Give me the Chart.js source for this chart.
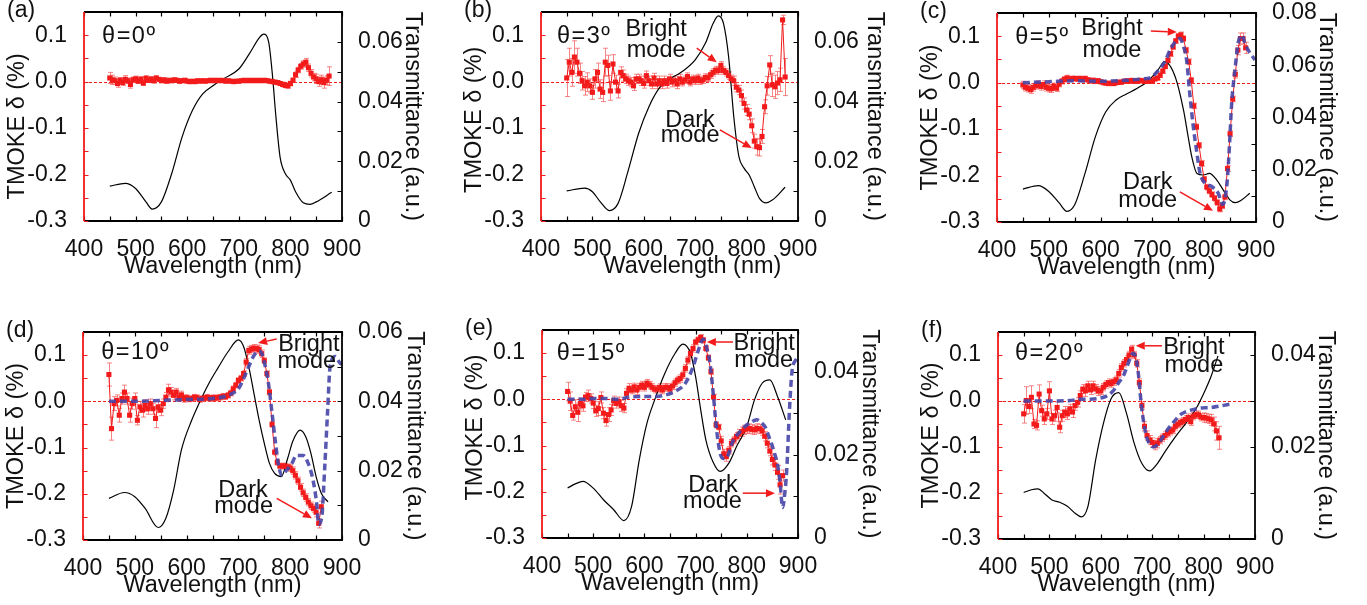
<!DOCTYPE html>
<html lang="en">
<head>
<meta charset="UTF-8">
<title>TMOKE spectra vs. incidence angle</title>
<script src="https://cdn.jsdelivr.net/npm/chart.js"></script>
<style>
  html, body { margin: 0; padding: 0; background: #fff; overflow: hidden; }
  body { width: 1367px; height: 605px; position: relative; }
  canvas { position: absolute; }
</style>
</head>
<body>
<canvas id="ca"></canvas>
<canvas id="cb"></canvas>
<canvas id="cc"></canvas>
<canvas id="cd"></canvas>
<canvas id="ce"></canvas>
<canvas id="cf"></canvas>
<script>
// wavelength grid of the TMOKE measurements (nm)
const wl = [
  450, 455, 460, 465, 470, 475, 480, 485, 490, 495,
  500, 505, 510, 515, 520, 525, 530, 535, 540, 545,
  550, 555, 560, 565, 570, 575, 580, 585, 590, 595,
  600, 605, 610, 615, 620, 625, 630, 635, 640, 645,
  650, 655, 660, 665, 670, 675, 680, 685, 690, 695,
  700, 705, 710, 715, 720, 725, 730, 735, 740, 745,
  750, 755, 760, 765, 770, 775, 780, 785, 790, 795,
  800, 805, 810, 815, 820, 825, 830, 835, 840, 845,
  850, 855, 860, 865, 870, 875, 880
];

// axis tick labels
const wlTicks = [400, 500, 600, 700, 800, 900];
const deltaTicks = [-0.3, -0.2, -0.1, 0, 0.1];
const transTicks06 = [0, 0.02, 0.04, 0.06];
const transTicks08 = [0, 0.02, 0.04, 0.06, 0.08];
const transTicks04 = [0, 0.02, 0.04];

// TMOKE delta (%) and its error, one row per 50 nm
const deltaA = [
  0.008, 0.004, 0.002, -0.004, 0.003, -0.002, 0.005, 0.002, -0.006, 0.004,
  0.006, 0.001, 0.005, -0.003, 0.007, 0.003, 0.006, 0.002, 0.008, 0.005,
  0.002, 0.004, 0.001, 0.003, 0.002, 0.004, 0.003, 0.001, 0.002, 0.003,
  0.001, 0.000, 0.001, 0.000, 0.002, 0.001, 0.002, 0.001, 0.002, 0.003,
  0.002, 0.003, 0.002, 0.003, 0.002, 0.001, 0.002, 0.001, 0.000, 0.001,
  0.001, 0.002, 0.003, 0.002, 0.003, 0.002, 0.003, 0.002, 0.003, 0.002,
  0.003, 0.002, 0.001, 0.000, -0.001, -0.002, -0.004, -0.006, -0.008, -0.009,
  -0.004, 0.003, 0.015, 0.025, 0.033, 0.038, 0.042, 0.030, 0.018, 0.010,
  0.006, 0.000, 0.004, -0.002, 0.003, 0.012
];
const errA = [
  0.012, 0.010, 0.008, 0.008, 0.006, 0.006, 0.008, 0.006, 0.008, 0.006,
  0.006, 0.005, 0.006, 0.005, 0.006, 0.005, 0.004, 0.005, 0.004, 0.004,
  0.004, 0.004, 0.004, 0.004, 0.004, 0.004, 0.004, 0.004, 0.004, 0.004,
  0.003, 0.003, 0.003, 0.003, 0.003, 0.003, 0.003, 0.003, 0.003, 0.003,
  0.003, 0.003, 0.003, 0.003, 0.003, 0.003, 0.003, 0.003, 0.003, 0.003,
  0.003, 0.003, 0.003, 0.003, 0.003, 0.003, 0.003, 0.003, 0.003, 0.003,
  0.003, 0.003, 0.003, 0.004, 0.004, 0.004, 0.004, 0.005, 0.005, 0.005,
  0.005, 0.005, 0.006, 0.006, 0.006, 0.007, 0.008, 0.008, 0.008, 0.008,
  0.010, 0.010, 0.010, 0.012, 0.010, 0.020
];

const deltaB = [
  0.008, 0.042, 0.020, 0.053, 0.042, 0.018, 0.002, -0.009, -0.001, -0.009,
  -0.023, 0.006, 0.020, -0.016, -0.023, 0.042, 0.035, -0.020, 0.038, -0.001,
  -0.020, 0.020, 0.013, 0.006, 0.002, -0.001, -0.009, 0.006, 0.006, 0.002,
  -0.004, 0.013, 0.002, -0.005, 0.008, -0.005, 0.002, -0.005, 0.002, -0.004,
  0.006, -0.001, 0.002, -0.005, 0.006, -0.001, 0.004, 0.011, -0.001, 0.006,
  0.002, 0.008, 0.002, 0.004, 0.009, 0.008, 0.015, 0.020, 0.025, 0.024,
  0.035, 0.024, 0.020, 0.013, 0.006, 0.002, -0.012, -0.018, -0.030, -0.047,
  -0.061, -0.070, -0.095, -0.128, -0.140, -0.142, -0.118, -0.054, -0.009, 0.036,
  -0.007, -0.011, -0.003, 0.004, 0.133, 0.010
];
const errB = [
  0.040, 0.030, 0.030, 0.035, 0.030, 0.022, 0.020, 0.020, 0.020, 0.015,
  0.015, 0.020, 0.020, 0.020, 0.020, 0.030, 0.022, 0.020, 0.020, 0.015,
  0.015, 0.012, 0.012, 0.010, 0.010, 0.010, 0.010, 0.010, 0.010, 0.010,
  0.010, 0.010, 0.010, 0.010, 0.010, 0.010, 0.010, 0.010, 0.010, 0.010,
  0.010, 0.010, 0.010, 0.010, 0.010, 0.008, 0.008, 0.008, 0.008, 0.008,
  0.008, 0.008, 0.008, 0.008, 0.008, 0.008, 0.008, 0.008, 0.008, 0.008,
  0.008, 0.008, 0.008, 0.008, 0.008, 0.010, 0.010, 0.010, 0.012, 0.012,
  0.012, 0.012, 0.015, 0.015, 0.018, 0.018, 0.015, 0.015, 0.020, 0.020,
  0.025, 0.025, 0.025, 0.025, 0.010, 0.040
];

const deltaC = [
  -0.005, -0.010, -0.012, -0.015, -0.010, -0.006, -0.004, -0.008, -0.004, -0.010,
  -0.012, -0.013, -0.008, -0.012, -0.003, 0.003, 0.007, 0.010, 0.008, 0.009,
  0.009, 0.008, 0.009, 0.007, 0.009, 0.006, 0.004, 0.005, 0.003, 0.004,
  0.002, 0.000, -0.001, -0.002, -0.001, -0.002, 0.000, 0.001, 0.001, 0.003,
  0.004, 0.003, 0.005, 0.004, 0.003, 0.005, 0.004, 0.003, 0.004, 0.003,
  0.004, 0.008, 0.010, 0.016, 0.025, 0.035, 0.048, 0.062, 0.077, 0.090,
  0.100, 0.103, 0.095, 0.070, 0.045, 0.005, -0.050, -0.095, -0.135, -0.174,
  -0.208, -0.225, -0.233, -0.241, -0.249, -0.258, -0.272, -0.265, -0.246, -0.185,
  -0.110, -0.035, 0.018, 0.070, 0.095, 0.095, 0.075
];
const errC = [
  0.008, 0.008, 0.008, 0.008, 0.008, 0.008, 0.008, 0.008, 0.008, 0.008,
  0.008, 0.008, 0.007, 0.007, 0.006, 0.006, 0.006, 0.006, 0.005, 0.005,
  0.005, 0.005, 0.005, 0.005, 0.005, 0.005, 0.005, 0.005, 0.005, 0.005,
  0.004, 0.004, 0.004, 0.004, 0.004, 0.004, 0.004, 0.004, 0.004, 0.004,
  0.004, 0.004, 0.004, 0.004, 0.004, 0.004, 0.004, 0.004, 0.004, 0.004,
  0.004, 0.004, 0.004, 0.005, 0.005, 0.005, 0.005, 0.005, 0.005, 0.005,
  0.006, 0.006, 0.006, 0.006, 0.006, 0.006, 0.006, 0.006, 0.006, 0.006,
  0.006, 0.006, 0.006, 0.006, 0.006, 0.006, 0.006, 0.006, 0.006, 0.006,
  0.006, 0.006, 0.008, 0.010, 0.012, 0.012, 0.012
];

const deltaD = [
  0.058, -0.059, -0.005, 0.002, -0.030, 0.006, 0.020, 0.006, -0.030, -0.005,
  0.006, -0.041, -0.012, -0.019, -0.009, -0.016, -0.005, -0.016, -0.037, -0.012,
  -0.019, -0.005, 0.009, 0.025, 0.020, 0.013, 0.020, 0.009, 0.014, 0.006,
  0.008, 0.005, 0.006, 0.009, 0.008, 0.004, 0.006, 0.007, 0.009, 0.006,
  0.008, 0.007, 0.008, 0.009, 0.011, 0.010, 0.013, 0.018, 0.027, 0.035,
  0.045, 0.050, 0.060, 0.085, 0.110, 0.113, 0.115, 0.114, 0.112, 0.103,
  0.088, 0.060, 0.020, -0.050, -0.110, -0.132, -0.140, -0.140, -0.140, -0.142,
  -0.144, -0.150, -0.160, -0.172, -0.186, -0.198, -0.208, -0.218, -0.226, -0.232,
  -0.240, -0.264, -0.228
];
const errD = [
  0.025, 0.025, 0.015, 0.012, 0.015, 0.012, 0.015, 0.012, 0.015, 0.012,
  0.012, 0.010, 0.012, 0.015, 0.012, 0.012, 0.010, 0.012, 0.020, 0.012,
  0.012, 0.010, 0.010, 0.012, 0.010, 0.010, 0.008, 0.008, 0.008, 0.008,
  0.006, 0.006, 0.006, 0.006, 0.006, 0.006, 0.006, 0.006, 0.006, 0.006,
  0.006, 0.006, 0.006, 0.006, 0.006, 0.006, 0.006, 0.006, 0.006, 0.006,
  0.006, 0.006, 0.006, 0.008, 0.008, 0.008, 0.008, 0.008, 0.008, 0.008,
  0.006, 0.006, 0.006, 0.006, 0.006, 0.006, 0.006, 0.006, 0.006, 0.006,
  0.008, 0.008, 0.008, 0.008, 0.008, 0.008, 0.008, 0.008, 0.008, 0.008,
  0.010, 0.010, 0.012
];

const deltaE = [
  0.017, -0.004, -0.035, -0.016, -0.028, -0.009, -0.014, 0.005, 0.008, 0.002,
  -0.008, -0.025, -0.020, 0.004, -0.030, -0.046, -0.033, -0.023, -0.003, -0.009,
  -0.005, -0.014, -0.019, 0.013, 0.024, 0.020, 0.027, 0.020, 0.026, 0.031,
  0.026, 0.035, 0.031, 0.026, 0.022, 0.022, 0.026, 0.020, 0.026, 0.026,
  0.022, 0.029, 0.036, 0.042, 0.045, 0.053, 0.067, 0.085, 0.099, 0.110,
  0.124, 0.129, 0.134, 0.128, 0.110, 0.090, 0.060, 0.005, -0.055, -0.060,
  -0.090, -0.118, -0.124, -0.110, -0.095, -0.088, -0.080, -0.075, -0.070, -0.066,
  -0.064, -0.063, -0.065, -0.066, -0.063, -0.064, -0.068, -0.080, -0.095, -0.112,
  -0.130, -0.142, -0.158, -0.185, -0.165
];
const errE = [
  0.020, 0.020, 0.010, 0.015, 0.020, 0.012, 0.012, 0.010, 0.012, 0.010,
  0.012, 0.012, 0.015, 0.012, 0.012, 0.012, 0.015, 0.012, 0.010, 0.010,
  0.010, 0.012, 0.010, 0.010, 0.010, 0.008, 0.008, 0.010, 0.008, 0.008,
  0.008, 0.008, 0.008, 0.008, 0.008, 0.008, 0.008, 0.008, 0.008, 0.008,
  0.008, 0.008, 0.008, 0.008, 0.008, 0.008, 0.008, 0.008, 0.008, 0.008,
  0.006, 0.006, 0.006, 0.006, 0.006, 0.006, 0.006, 0.006, 0.006, 0.006,
  0.010, 0.010, 0.010, 0.008, 0.008, 0.008, 0.008, 0.010, 0.010, 0.010,
  0.010, 0.010, 0.010, 0.010, 0.010, 0.010, 0.010, 0.010, 0.010, 0.010,
  0.012, 0.012, 0.015, 0.020, 0.012
];

const deltaF = [
  -0.028, 0.001, -0.012, 0.008, -0.050, -0.053, 0.015, -0.021, -0.039, -0.028,
  0.022, -0.039, -0.032, -0.014, -0.057, -0.032, -0.024, -0.028, -0.017, -0.024,
  -0.010, -0.003, 0.012, 0.026, 0.022, 0.033, 0.024, 0.033, 0.026, 0.022,
  0.022, 0.030, 0.036, 0.040, 0.038, 0.042, 0.046, 0.060, 0.073, 0.082,
  0.090, 0.100, 0.113, 0.100, 0.082, 0.040, -0.010, -0.055, -0.075, -0.085,
  -0.090, -0.096, -0.092, -0.085, -0.080, -0.075, -0.070, -0.066, -0.063, -0.055,
  -0.050, -0.047, -0.044, -0.040, -0.036, -0.045, -0.033, -0.030, -0.030, -0.035,
  -0.036, -0.037, -0.039, -0.041, -0.050, -0.065, -0.080
];
const errF = [
  0.020, 0.030, 0.015, 0.025, 0.010, 0.010, 0.020, 0.012, 0.012, 0.012,
  0.020, 0.012, 0.012, 0.012, 0.012, 0.012, 0.012, 0.012, 0.010, 0.012,
  0.010, 0.010, 0.010, 0.010, 0.012, 0.010, 0.010, 0.010, 0.010, 0.010,
  0.008, 0.008, 0.008, 0.008, 0.008, 0.008, 0.008, 0.008, 0.008, 0.008,
  0.008, 0.008, 0.008, 0.008, 0.008, 0.008, 0.008, 0.010, 0.010, 0.010,
  0.010, 0.010, 0.010, 0.008, 0.008, 0.008, 0.008, 0.008, 0.008, 0.008,
  0.008, 0.008, 0.008, 0.008, 0.008, 0.008, 0.008, 0.008, 0.008, 0.008,
  0.010, 0.010, 0.010, 0.012, 0.015, 0.020, 0.025
];

// transmittance spectra (right axis)
const transWlA = [450, 480, 500, 520, 532, 550, 570, 590, 610, 630, 650, 670, 700, 720, 740, 748, 758, 765, 772, 780, 790, 800, 810, 825, 838, 850, 880];
const transA = [0.0117, 0.0126, 0.0109, 0.0064, 0.0040, 0.0064, 0.0159, 0.0281, 0.0370, 0.0426, 0.0453, 0.0476, 0.0509, 0.0559, 0.0614, 0.0626, 0.0598, 0.0492, 0.0348, 0.0214, 0.0159, 0.0137, 0.0098, 0.0061, 0.0056, 0.0064, 0.0096];
const transWlB = [450, 485, 500, 515, 533, 550, 570, 590, 610, 630, 650, 670, 700, 720, 735, 745, 755, 765, 775, 785, 795, 805, 815, 825, 838, 850, 875];
const transB = [0.0101, 0.0110, 0.0098, 0.0065, 0.0035, 0.0059, 0.0171, 0.0294, 0.0383, 0.0445, 0.0476, 0.0495, 0.0540, 0.0596, 0.0662, 0.0687, 0.0662, 0.0550, 0.0350, 0.0216, 0.0177, 0.0154, 0.0115, 0.0076, 0.0061, 0.0070, 0.0113];
const transWlC = [450, 480, 500, 520, 535, 550, 570, 590, 610, 630, 650, 670, 690, 710, 724, 744, 760, 769, 776, 786, 798, 810, 824, 837, 850, 860, 872, 888];
const transC = [0.0126, 0.0139, 0.0117, 0.0073, 0.0041, 0.0066, 0.0187, 0.0327, 0.0422, 0.0467, 0.0490, 0.0511, 0.0537, 0.0580, 0.0614, 0.0556, 0.0429, 0.0327, 0.0250, 0.0186, 0.0180, 0.0186, 0.0161, 0.0122, 0.0084, 0.0074, 0.0084, 0.0110];
const transWlD = [450, 480, 500, 520, 545, 560, 575, 590, 610, 630, 645, 660, 680, 700, 710, 720, 730, 740, 750, 760, 770, 783, 795, 805, 819, 830, 840, 850, 860, 873];
const transD = [0.0120, 0.0137, 0.0125, 0.0091, 0.0036, 0.0063, 0.0144, 0.0260, 0.0346, 0.0413, 0.0457, 0.0495, 0.0543, 0.0577, 0.0558, 0.0500, 0.0423, 0.0346, 0.0279, 0.0221, 0.0192, 0.0183, 0.0235, 0.0285, 0.0317, 0.0298, 0.0250, 0.0183, 0.0135, 0.0110];
const transWlE = [450, 465, 480, 500, 520, 540, 560, 575, 590, 605, 620, 640, 660, 675, 690, 700, 710, 720, 735, 748, 765, 780, 800, 815, 830, 845, 860, 876];
const transE = [0.0120, 0.0130, 0.0136, 0.0120, 0.0092, 0.0068, 0.0042, 0.0076, 0.0188, 0.0276, 0.0332, 0.0396, 0.0444, 0.0466, 0.0444, 0.0388, 0.0308, 0.0236, 0.0180, 0.0160, 0.0180, 0.0220, 0.0268, 0.0332, 0.0372, 0.0380, 0.0340, 0.0284];
const transWlF = [450, 465, 478, 490, 505, 520, 535, 550, 562, 575, 590, 605, 620, 635, 650, 665, 680, 695, 710, 725, 745, 765, 785, 800, 815, 828];
const transF = [0.0101, 0.0107, 0.0109, 0.0099, 0.0085, 0.0080, 0.0071, 0.0056, 0.0048, 0.0071, 0.0172, 0.0251, 0.0305, 0.0318, 0.0273, 0.0208, 0.0164, 0.0148, 0.0164, 0.0190, 0.0222, 0.0251, 0.0283, 0.0316, 0.0355, 0.0398];

// calculated TMOKE (dashed)
const fitWlC = [450, 500, 550, 600, 650, 680, 695, 715, 724, 734, 744, 753, 760, 766, 772, 779, 786, 792, 802, 815, 827, 836, 844, 849, 853, 860, 866, 873, 879, 889, 898];
const fitC = [0.000, 0.002, 0.004, 0.003, 0.005, 0.008, 0.010, 0.031, 0.045, 0.070, 0.088, 0.095, 0.078, 0.049, -0.022, -0.095, -0.152, -0.195, -0.217, -0.224, -0.238, -0.262, -0.217, -0.131, -0.045, 0.034, 0.088, 0.102, 0.083, 0.063, 0.049];
const fitWlD = [450, 500, 550, 600, 650, 680, 700, 710, 720, 730, 740, 745, 751, 758, 765, 771, 777, 784, 793, 803, 812, 825, 835, 844, 851, 855, 861, 867, 872, 877, 887, 896, 900];
const fitD = [0.000, 0.000, 0.002, 0.004, 0.006, 0.013, 0.027, 0.049, 0.075, 0.099, 0.109, 0.104, 0.080, 0.039, -0.026, -0.084, -0.135, -0.160, -0.149, -0.135, -0.117, -0.117, -0.135, -0.170, -0.220, -0.266, -0.250, -0.135, -0.026, 0.075, 0.097, 0.083, 0.080];
const fitWlE = [450, 480, 500, 520, 550, 570, 600, 620, 640, 660, 680, 695, 705, 715, 722, 728, 735, 741, 748, 754, 762, 773, 785, 796, 808, 819, 828, 836, 843, 849, 855, 860, 865, 870, 874, 878, 883, 888, 896, 900];
const fitE = [0.000, 0.000, 0.002, 0.002, 0.000, 0.005, 0.006, 0.006, 0.009, 0.017, 0.035, 0.070, 0.105, 0.130, 0.110, 0.079, 0.006, -0.066, -0.117, -0.128, -0.124, -0.090, -0.072, -0.059, -0.050, -0.044, -0.050, -0.060, -0.080, -0.098, -0.120, -0.140, -0.180, -0.234, -0.205, -0.153, -0.030, 0.057, 0.086, 0.092];
const fitWlF = [450, 500, 540, 560, 580, 598, 610, 624, 635, 644, 652, 658, 663, 668, 673, 679, 684, 689, 695, 702, 708, 715, 728, 740, 757, 775, 790, 815, 851];
const fitF = [0.000, 0.000, 0.001, 0.004, 0.004, 0.006, 0.010, 0.022, 0.040, 0.055, 0.078, 0.095, 0.104, 0.095, 0.060, -0.010, -0.050, -0.078, -0.093, -0.100, -0.097, -0.088, -0.065, -0.048, -0.028, -0.020, -0.016, -0.014, -0.007];

const FONT = "'Liberation Sans', Arial, sans-serif";
const RED = 'rgb(242, 26, 26)';
const ERR = 'rgba(246, 92, 92, 0.75)';
const FIT = 'rgba(70, 70, 168, 0.9)';

const X_TITLE = 'Wavelength (nm)';
const Y_TITLE = 'TMOKE δ (%)';
const T_TITLE = 'Transmittance (a.u.)';

// box = plot area in page pixels; notes/arrows are in axis units
const panels = [
  { id: 'ca', tag: '(a)', angle: 'θ=0º', anglePos: [435, 0.097], box: { left: 84, top: 12, w: 258, h: 209 }, rightW: 90,
    tMax: 0.07, tTicks: transTicks06, xTitle: X_TITLE, yTitle: Y_TITLE + '   ',
    delta: deltaA, err: errA, tX: transWlA, tY: transA, notes: [], arrows: [] },
  { id: 'cb', tag: '(b)', angle: 'θ=3º', anglePos: [431, 0.097], box: { left: 541, top: 12, w: 257, h: 209 }, rightW: 96,
    tMax: 0.07, tTicks: transTicks06, xTitle: '       ' + X_TITLE, yTitle: Y_TITLE + ' ',
    delta: deltaB, err: errB, tX: transWlB, tY: transB,
    notes: [['Bright', 624, 0.113], ['mode', 624, 0.068], ['Dark', 690, -0.083], ['mode', 690, -0.115]],
    arrows: [[703, 0.072, 742, 0.042], [748, -0.104, 810, -0.143]] },
  { id: 'cc', tag: '(c)', angle: 'θ=5º', anglePos: [435, 0.098], box: { left: 997, top: 13, w: 259, h: 209 }, rightW: 90,
    tMax: 0.08, tTicks: transTicks08, xTitle: X_TITLE, yTitle: Y_TITLE,
    delta: deltaC, err: errC, tX: transWlC, tY: transC, fitX: fitWlC, fitY: fitC,
    notes: [['Bright', 622, 0.116], ['mode', 622, 0.070], ['Dark', 691, -0.216], ['mode', 691, -0.253]],
    arrows: [[697, 0.111, 747, 0.109], [753, -0.235, 817, -0.276]] },
  { id: 'cd', tag: '(d)', angle: 'θ=10º', anglePos: [435, 0.105], box: { left: 83, top: 332, w: 259, h: 208 }, rightW: 92,
    tMax: 0.06, tTicks: transTicks06, xTitle: X_TITLE, yTitle: Y_TITLE,
    delta: deltaD, err: errD, tX: transWlD, tY: transD, fitX: fitWlD, fitY: fitD,
    notes: [['Bright', 836, 0.124], ['mode', 832, 0.087], ['Dark', 709, -0.194], ['mode', 710, -0.227]],
    arrows: [[774, 0.135, 738, 0.126], [774, -0.210, 842, -0.253]] },
  { id: 'ce', tag: '(e)', angle: 'θ=15º', anglePos: [429, 0.100], box: { left: 542, top: 330, w: 256, h: 208 }, rightW: 91,
    tMax: 0.05, tTicks: transTicks04, xTitle: X_TITLE, yTitle: '  ' + Y_TITLE,
    delta: deltaE, err: errE, tX: transWlE, tY: transE, fitX: fitWlE, fitY: fitE,
    notes: [['Bright', 834, 0.120], ['mode', 833, 0.083], ['Dark', 734, -0.186], ['mode', 733, -0.220]],
    arrows: [[773, 0.124, 722, 0.124], [792, -0.203, 855, -0.203]] },
  { id: 'cf', tag: '(f)', angle: 'θ=20º', anglePos: [433, 0.104], box: { left: 998, top: 332, w: 257, h: 207 }, rightW: 90,
    tMax: 0.045, tTicks: transTicks04, xTitle: X_TITLE, yTitle: Y_TITLE,
    delta: deltaF, err: errF, tX: transWlF, tY: transF, fitX: fitWlF, fitY: fitF,
    notes: [['Bright', 781, 0.117], ['mode', 781, 0.078]],
    arrows: [[719, 0.120, 668, 0.120]] }
];

const pts = (xs, ys) => ys.map((y, i) => ({ x: xs[i], y: y }));

function noPad(s) {
  s.paddingLeft = 0; s.paddingRight = 0; s.paddingTop = 0; s.paddingBottom = 0;
}

function fixedTicks(values) {
  return s => { s.ticks = values.map(v => ({ value: v })); };
}

function drawArrow(ctx, x1, y1, x2, y2) {
  const ang = Math.atan2(y2 - y1, x2 - x1);
  const L = 9, W = 4;
  const bx = x2 - L * Math.cos(ang), by = y2 - L * Math.sin(ang);
  ctx.beginPath();
  ctx.moveTo(x1, y1);
  ctx.lineTo(bx, by);
  ctx.stroke();
  ctx.beginPath();
  ctx.moveTo(x2, y2);
  ctx.lineTo(bx + W * Math.sin(ang), by - W * Math.cos(ang));
  ctx.lineTo(bx - W * Math.sin(ang), by + W * Math.cos(ang));
  ctx.closePath();
  ctx.fill();
}

// inward tick marks at the labelled values and halfway between them
function tickMarks(ctx, scale, from, dir, vertical) {
  const vals = scale.ticks.map(t => t.value);
  const marks = [];
  vals.forEach((v, i) => {
    marks.push(v);
    if (i < vals.length - 1) marks.push((v + vals[i + 1]) / 2);
  });
  const last = vals[vals.length - 1], step = vals[1] - vals[0];
  if (last + step / 2 < scale.max - 1e-9) marks.push(last + step / 2);
  ctx.beginPath();
  marks.forEach(v => {
    const p = Math.round(scale.getPixelForValue(v)) + 0.5;
    if (vertical) { ctx.moveTo(from, p); ctx.lineTo(from + dir * 4.5, p); }
    else { ctx.moveTo(p, from); ctx.lineTo(p, from + dir * 4.5); }
  });
  ctx.stroke();
}

const framePlugin = {
  id: 'frame',
  beforeDatasetsDraw(chart) {
    const { ctx, chartArea: a, scales } = chart;
    const x = scales.x, y = scales.y;
    ctx.save();
    ctx.beginPath();
    ctx.rect(a.left, a.top, a.right - a.left, a.bottom - a.top);
    ctx.clip();
    // zero line
    const y0 = Math.round(y.getPixelForValue(0)) + 0.5;
    ctx.strokeStyle = RED;
    ctx.lineWidth = 1;
    ctx.setLineDash([3, 2]);
    ctx.beginPath();
    ctx.moveTo(a.left, y0);
    ctx.lineTo(a.right, y0);
    ctx.stroke();
    ctx.setLineDash([]);
    // error bars under the markers
    chart.data.datasets.forEach(ds => {
      if (!ds.errors) return;
      ctx.strokeStyle = ERR;
      ctx.lineWidth = 1;
      ctx.beginPath();
      ds.data.forEach((p, i) => {
        const e = ds.errors[i];
        const px = Math.round(x.getPixelForValue(p.x)) + 0.5;
        const top = y.getPixelForValue(p.y + e);
        const bot = y.getPixelForValue(p.y - e);
        ctx.moveTo(px, top); ctx.lineTo(px, bot);
        ctx.moveTo(px - 2.5, top); ctx.lineTo(px + 2.5, top);
        ctx.moveTo(px - 2.5, bot); ctx.lineTo(px + 2.5, bot);
      });
      ctx.stroke();
    });
    ctx.restore();
  },
  afterDatasetsDraw(chart) {
    const { ctx, chartArea: a, scales } = chart;
    ctx.save();
    ctx.lineWidth = 1.8;
    ctx.strokeStyle = '#000';
    ctx.beginPath();
    ctx.moveTo(a.left, a.top); ctx.lineTo(a.right, a.top);
    ctx.lineTo(a.right, a.bottom); ctx.lineTo(a.left, a.bottom);
    ctx.stroke();
    ctx.lineWidth = 1.2;
    tickMarks(ctx, scales.x, a.bottom, -1, false);
    tickMarks(ctx, scales.x, a.top, 1, false);
    tickMarks(ctx, scales.y1, a.right, -1, true);
    ctx.strokeStyle = RED;
    tickMarks(ctx, scales.y, a.left, 1, true);
    ctx.lineWidth = 1.8;
    ctx.beginPath();
    ctx.moveTo(a.left, a.top); ctx.lineTo(a.left, a.bottom);
    ctx.stroke();
    ctx.restore();
  },
  afterDraw(chart, args, opts) {
    const { ctx, chartArea: a, scales } = chart;
    const x = scales.x, y = scales.y;
    ctx.save();
    ctx.fillStyle = '#111';
    ctx.textBaseline = 'middle';
    ctx.textAlign = 'left';
    ctx.font = '23px ' + FONT;
    ctx.fillText(opts.tag, a.left - 77, a.top - 1);
    ctx.font = '23.5px ' + FONT;
    ctx.letterSpacing = '1.5px';
    ctx.fillText(opts.angle, x.getPixelForValue(opts.anglePos[0]), y.getPixelForValue(opts.anglePos[1]));
    ctx.letterSpacing = '0px';
    ctx.textAlign = 'center';
    opts.notes.forEach(([t, nx, ny]) => {
      ctx.fillText(t, x.getPixelForValue(nx), y.getPixelForValue(ny));
    });
    ctx.strokeStyle = RED;
    ctx.fillStyle = RED;
    ctx.lineWidth = 1.5;
    opts.arrows.forEach(([x1, y1, x2, y2]) => {
      drawArrow(ctx, x.getPixelForValue(x1), y.getPixelForValue(y1), x.getPixelForValue(x2), y.getPixelForValue(y2));
    });
    ctx.restore();
  }
};

function makeChart(p) {
  const el = document.getElementById(p.id);
  const W = 84 + p.box.w + p.rightW, H = 12 + p.box.h + 80;
  el.width = W; el.height = H;
  el.style.width = W + 'px'; el.style.height = H + 'px';
  el.style.left = (p.box.left - 84) + 'px';
  el.style.top = (p.box.top - 12) + 'px';

  const datasets = [];
  if (p.fitX) {
    datasets.push({
      data: pts(p.fitX, p.fitY), yAxisID: 'y', order: 1,
      borderColor: FIT, borderWidth: 3.5, borderDash: [7, 4],
      pointRadius: 0, cubicInterpolationMode: 'monotone'
    });
  }
  datasets.push({
    data: pts(wl, p.delta), errors: p.err, yAxisID: 'y', order: 2,
    borderColor: RED, borderWidth: 1,
    pointStyle: 'rect', pointRadius: 3.6, pointBackgroundColor: RED, pointBorderWidth: 0
  });
  datasets.push({
    data: pts(p.tX, p.tY), yAxisID: 'y1', order: 3,
    borderColor: '#000', borderWidth: 1.2, pointRadius: 0, cubicInterpolationMode: 'monotone'
  });

  const tickFont = { family: FONT, size: 23 };
  const titleFont = { family: FONT, size: 23.5 };

  new Chart(el, {
    type: 'line',
    data: { datasets },
    plugins: [framePlugin],
    options: {
      responsive: false,
      animation: false,
      events: [],
      layout: { padding: { top: 12, left: 0, right: 0, bottom: 0 } },
      plugins: {
        legend: { display: false },
        tooltip: { enabled: false },
        frame: { tag: p.tag, angle: p.angle, anglePos: p.anglePos, notes: p.notes, arrows: p.arrows }
      },
      scales: {
        x: {
          type: 'linear', min: 400, max: 900,
          grid: { display: false }, border: { display: false },
          afterBuildTicks: fixedTicks(wlTicks),
          afterFit: s => { s.height = 80; noPad(s); },
          ticks: { padding: 7, color: '#111', font: tickFont, maxRotation: 0, autoSkip: false },
          title: { display: true, text: p.xTitle, color: '#111', font: titleFont, padding: { top: 0, bottom: 20 } }
        },
        y: {
          type: 'linear', position: 'left', min: -0.3, max: 0.15,
          grid: { display: false }, border: { display: false },
          afterBuildTicks: fixedTicks(deltaTicks),
          afterFit: s => { s.width = 84; noPad(s); },
          ticks: {
            padding: 9, color: '#111', font: tickFont, autoSkip: false,
            callback: v => v.toFixed(1)
          },
          title: { display: true, text: p.yTitle, color: '#111', font: titleFont, padding: { top: 3.5, bottom: 0 } }
        },
        y1: {
          type: 'linear', position: 'right', min: 0, max: p.tMax,
          grid: { display: false }, border: { display: false },
          afterBuildTicks: fixedTicks(p.tTicks),
          afterFit: s => { s.width = p.rightW; noPad(s); },
          ticks: {
            padding: 8, color: '#111', font: tickFont, autoSkip: false,
            callback: v => (v === 0 ? '0' : v.toFixed(2))
          },
          title: { display: true, text: T_TITLE, color: '#111', font: titleFont, padding: { top: 5, bottom: 0 } }
        }
      }
    }
  });
}

panels.forEach(makeChart);
</script>
</body>
</html>
